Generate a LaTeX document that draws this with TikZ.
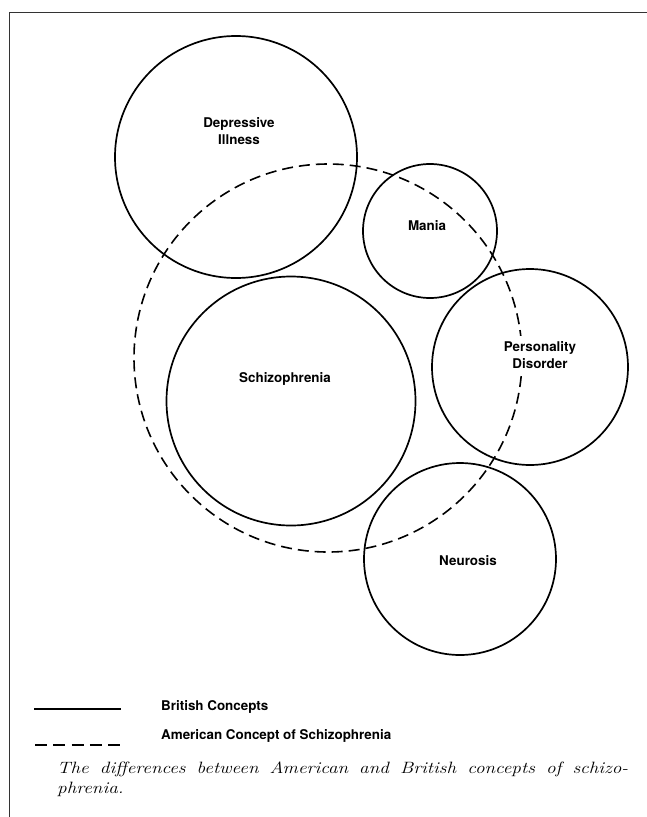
\documentclass[tikz,border=0pt]{standalone}
\usepackage{fontspec}
\usepackage{graphicx}
\newfontfamily\labfont{TeX Gyre Heros}
\begin{document}
\begin{tikzpicture}[x=1pt,y=-1pt,
  british/.style={circle,draw=black,line width=1.7pt,inner sep=0pt},
  american/.style={circle,draw=black,line width=1.6pt,inner sep=0pt,dash pattern=on 11pt off 6pt},
  lbl/.style={font=\labfont\bfseries\fontsize{13.4}{17}\selectfont,align=center,inner sep=0pt},
  leg/.style={font=\labfont\bfseries\fontsize{13.4}{16}\selectfont,anchor=west,inner sep=0pt},
  frame/.style={draw=black!80,line width=1pt}]
\useasboundingbox (0,0) rectangle (647,817);
% frame
\coordinate (fTR) at (647,12);
\coordinate (fTL) at (9,12);
\coordinate (fBL) at (9,817);
\draw[frame] (fTR) -- (fTL) -- (fBL);
% circles
\node[british,minimum size=242pt] (dep) at (236,157) {};
\node[british,minimum size=134pt] (man) at (430,231) {};
\node[british,minimum size=249pt] (sch) at (291,401) {};
\node[british,minimum size=196pt] (per) at (530,367) {};
\node[british,minimum size=192pt] (neu) at (460,559) {};
\node[american,minimum size=388pt] (ame) at (328,358) {};
% labels
\node[lbl] (depL) at (239,131) {Depressive\\Illness};
\node[lbl] (manL) at (427,226) {Mania};
\node[lbl] (schL) at (285,379) {Schizophrenia};
\node[lbl,fill=white,inner xsep=2pt,inner ysep=5pt] (perL) at (540,355) {Personality\\Disorder};
\node[lbl] (neuL) at (468,561) {Neurosis};
% legend
\coordinate (s1) at (34,709);
\coordinate (s2) at (121,709);
\draw[line width=2.4pt] (s1) -- (s2);
\coordinate (d1) at (35,745);
\coordinate (d2) at (120,745);
\draw[line width=2.4pt,dash pattern=on 12pt off 6.25pt] (d1) -- (d2);
\node[leg] (legB) at (161,707) {British Concepts};
\node[leg] (legA) at (161,736) {American Concept of Schizophrenia};
% caption
\node[anchor=north west,inner sep=0pt,align=left,font=\itshape\fontsize{16.4}{20}\selectfont] (cap) at (57,762)
  {\scalebox{1.17}[1]{\makebox[488pt][s]{The differences between American and British concepts of schizo-}}\\
   \scalebox{1.17}[1]{phrenia.}};
\end{tikzpicture}
\end{document}
